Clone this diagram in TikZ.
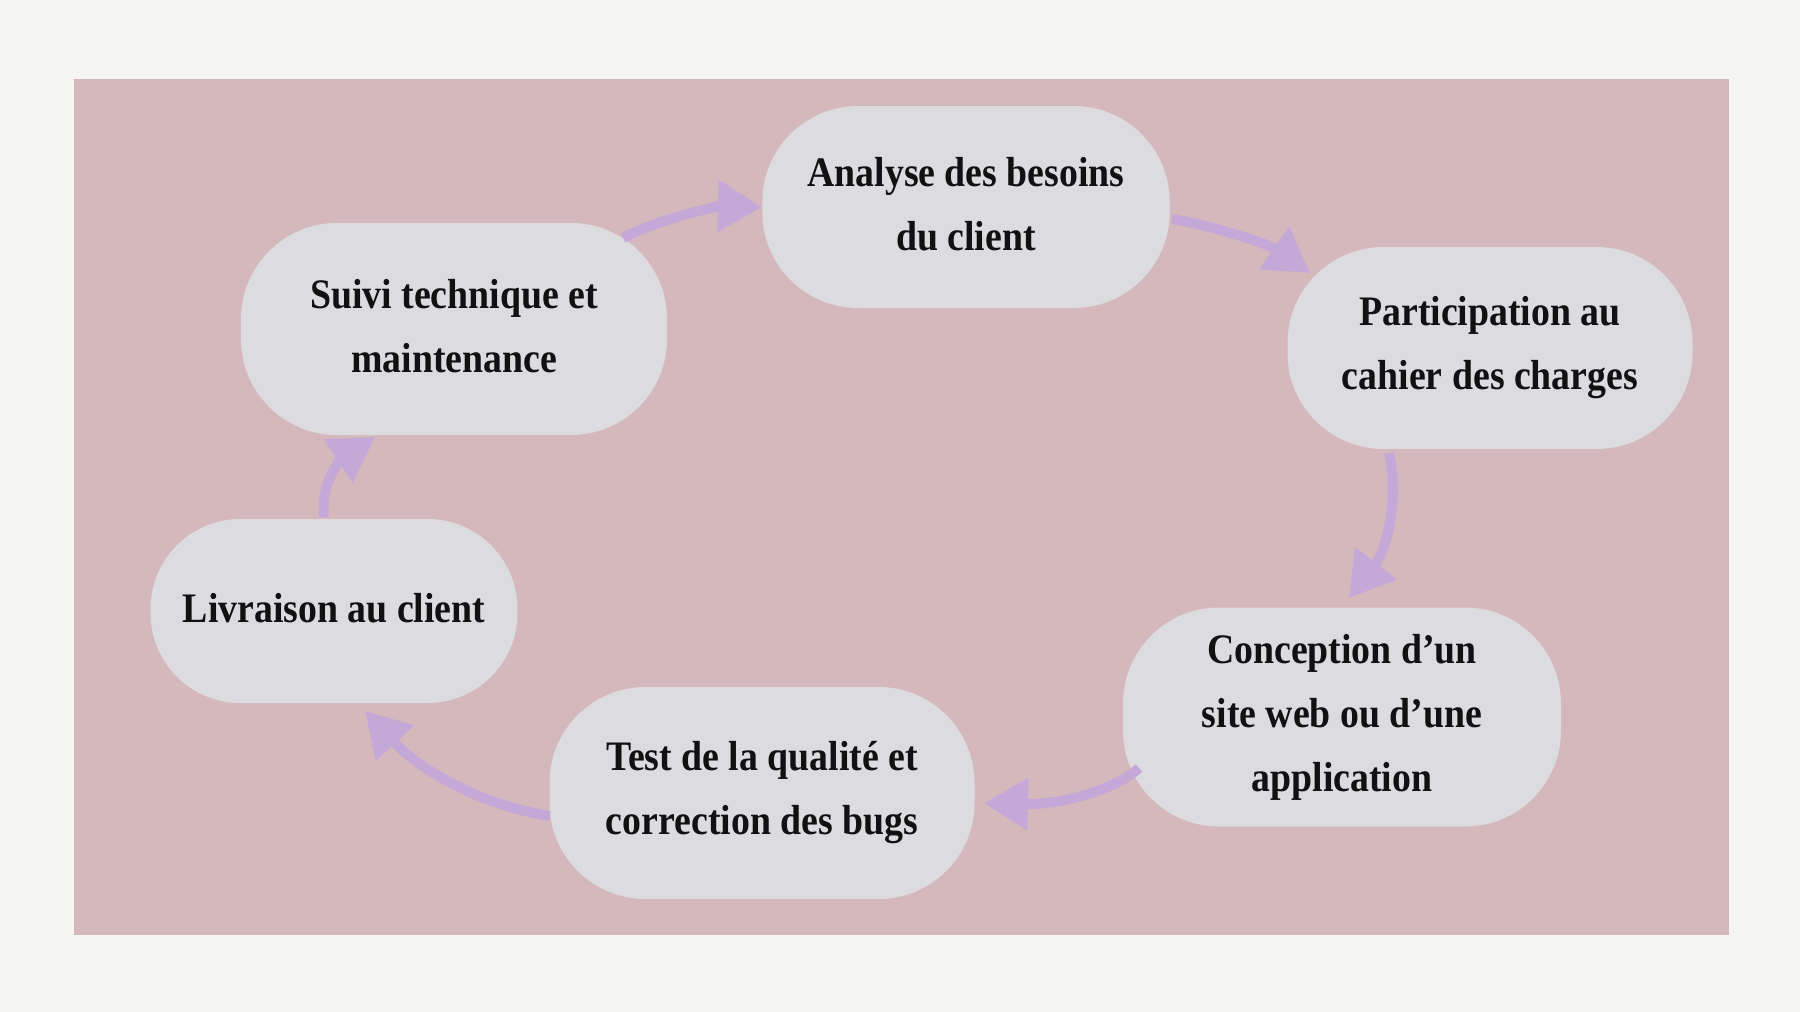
\documentclass[tikz,border=0pt]{standalone}
\usepackage{fontspec}
\setmainfont{Liberation Serif}[FakeStretch=0.9]
\usetikzlibrary{arrows.meta,calc}
\definecolor{outerbg}{HTML}{F5F5F1}
\definecolor{panel}{HTML}{D5B8BB}
\definecolor{boxfill}{HTML}{DCDBE0}
\definecolor{arrowc}{HTML}{C4A9D8}
\definecolor{txt}{HTML}{111111}
\tikzset{
  stagebox/.style={draw=none, fill=boxfill, rounded corners=48pt, align=center,
    text=txt, font=\fontsize{21}{32}\selectfont\bfseries, inner sep=0pt},
  stagetext/.style={align=center, text=txt, font=\fontsize{21}{32}\selectfont\bfseries, inner sep=0pt},
  flow/.style={draw=arrowc, line width=5pt, -{Triangle[length=22pt,width=25pt]}}
}
\begin{document}
\begin{tikzpicture}[x=0.5pt,y=-0.5pt]
\useasboundingbox (0,0) rectangle (1800,1012);
\fill[outerbg] (0,0) rectangle (1800,1012);
\fill[panel] (73.5,79) rectangle (1729,934.5);

\node[stagebox, minimum width=203.75pt, minimum height=101pt] (analyse) at (966,207) {};
\node[stagebox, minimum width=202.5pt, minimum height=101pt] (particip) at (1490,348) {};
\node[stagebox, minimum width=219pt, minimum height=109.5pt] (concept) at (1342,717) {};
\node[stagebox, minimum width=212.5pt, minimum height=106pt] (test) at (762,793) {};
\node[stagebox, minimum width=183.5pt, minimum height=92pt, rounded corners=45pt] (livr) at (334,611) {};
\node[stagebox, minimum width=213pt, minimum height=106pt] (suivi) at (454,329) {};

\node[stagetext, yshift=1.5pt] (analyseT) at (analyse.center) {Analyse des besoins\\du client};
\node[stagetext] (participT) at (particip.center) {Participation au\\cahier des charges};
\node[stagetext] (conceptT) at (concept.center) {Conception d’un\\site web ou d’une\\application};
\node[stagetext] (testT) at (test.center) {Test de la qualité et\\correction des bugs};
\node[stagetext, yshift=1.5pt] (livrT) at (livr.center) {Livraison au client};
\node[stagetext, yshift=1.5pt] (suiviT) at (suivi.center) {Suivi technique et\\maintenance};

\draw[flow] ($(suivi.center)+(169,-91)$) .. controls (660,218) and (720,206) .. (analyse.west);
\draw[flow] ($(analyse.center)+(206,12)$) .. controls (1215,226) and (1270,245) .. ($(particip.center)+(-180,-75)$);
\draw[flow] ($(particip.center)+(-101,105)$) .. controls (1398,490) and (1390,545) .. ($(concept.center)+(7,-119)$);
\draw[flow] ($(concept.center)+(-203,51)$) .. controls (1115,790) and (1060,805) .. ($(test.center)+(222,10)$);
\draw[flow] ($(test.center)+(-212,23)$) .. controls (480,805) and (420,770) .. ($(livr.center)+(31,100)$);
\draw[flow] ($(livr.center)+(-10,-94)$) .. controls (320,485) and (340,460) .. ($(suivi.center)+(-79,108)$);
\end{tikzpicture}
\end{document}
